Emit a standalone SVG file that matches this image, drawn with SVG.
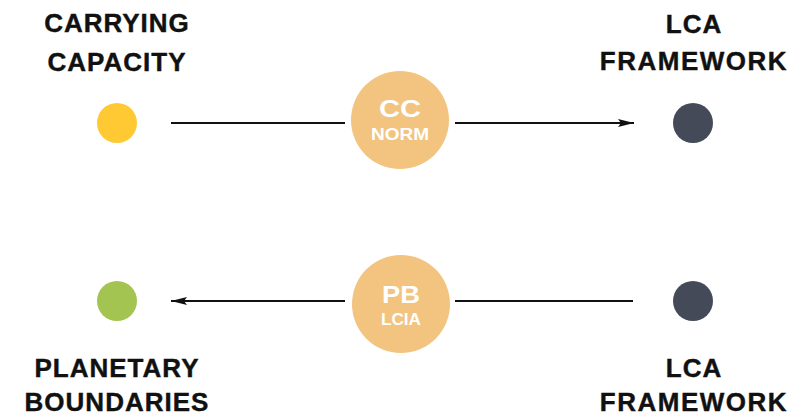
<svg xmlns="http://www.w3.org/2000/svg" width="792" height="417" viewBox="0 0 792 417">
<style>
.lbl{font-family:"Liberation Sans",Arial,sans-serif;font-weight:bold;font-size:26px;fill:#111;text-anchor:middle;letter-spacing:1px;stroke:#111;stroke-width:0.4px}
.big{font-family:"Liberation Sans",Arial,sans-serif;font-weight:bold;font-size:24px;fill:#fff;text-anchor:middle}
.small{font-family:"Liberation Sans",Arial,sans-serif;font-weight:bold;font-size:16px;fill:#fff;text-anchor:middle}
.edge{stroke:#111;stroke-width:2;fill:none}
.hub{fill:#F2C47F}
</style>
<defs>
<marker id="arr" viewBox="0 0 16 10" refX="16" refY="5" markerWidth="16" markerHeight="10" markerUnits="userSpaceOnUse" orient="auto">
<path d="M0,1 L16,5 L0,9 L3,5 Z" fill="#111"/>
</marker>
</defs>
<rect width="792" height="417" fill="#fff"/>
<g id="connectors">
<line class="edge" x1="171" y1="123" x2="345" y2="123"/>
<line class="edge" x1="455" y1="123" x2="634" y2="123" marker-end="url(#arr)"/>
<line class="edge" x1="633" y1="301" x2="455" y2="301"/>
<line class="edge" x1="345" y1="301" x2="171" y2="301" marker-end="url(#arr)"/>
</g>
<g id="carrying-capacity">
<text class="lbl" x="117" y="32">CARRYING</text>
<text class="lbl" x="117" y="71">CAPACITY</text>
<circle cx="117" cy="123" r="20" fill="#FFC933"/>
</g>
<g id="lca-framework-top">
<text class="lbl" x="694" y="33">LCA</text>
<text class="lbl" x="694" y="70" style="letter-spacing:1.5px">FRAMEWORK</text>
<circle cx="693" cy="123" r="20" fill="#454A59"/>
</g>
<g id="cc-norm">
<circle class="hub" cx="400" cy="120" r="49"/>
<text class="big" x="400" y="117" textLength="42" lengthAdjust="spacingAndGlyphs">CC</text>
<text class="small" x="400" y="140" textLength="58" lengthAdjust="spacingAndGlyphs">NORM</text>
</g>
<g id="pb-lcia">
<circle class="hub" cx="401" cy="304" r="49"/>
<text class="big" x="401" y="303" textLength="38" lengthAdjust="spacingAndGlyphs">PB</text>
<text class="small" x="401" y="325" textLength="40" lengthAdjust="spacingAndGlyphs">LCIA</text>
</g>
<g id="planetary-boundaries">
<circle cx="117" cy="301" r="20" fill="#A3C451"/>
<text class="lbl" x="117" y="377">PLANETARY</text>
<text class="lbl" x="117" y="411">BOUNDARIES</text>
</g>
<g id="lca-framework-bottom">
<circle cx="693" cy="301" r="20" fill="#454A59"/>
<text class="lbl" x="694" y="377">LCA</text>
<text class="lbl" x="694" y="411" style="letter-spacing:1.5px">FRAMEWORK</text>
</g>
</svg>
